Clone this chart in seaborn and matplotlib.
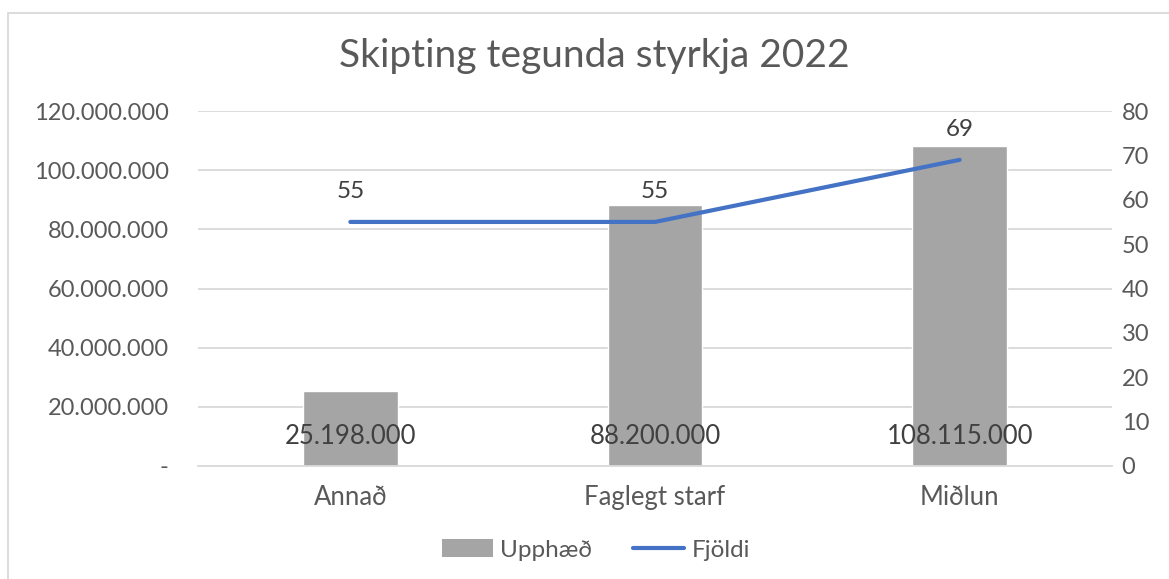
import numpy as np
import pandas as pd
import matplotlib.pyplot as plt
import seaborn as sns
from matplotlib.patches import Rectangle, Patch
from matplotlib.lines import Line2D

categories = ["Annað", "Faglegt starf", "Miðlun"]
upphaed = [25198000, 88200000, 108115000]
fjoldi = [55, 55, 69]

df = pd.DataFrame({"flokkur": categories, "upphaed": upphaed, "fjoldi": fjoldi})

sns.set_theme(style="white")
plt.rcParams['font.family'] = ['Lato', 'DejaVu Sans']
txt = "#595959"
grid = "#D9D9D9"

def fmt(v):
    if v == 0:
        return "-"
    return f"{int(v):,}".replace(",", ".")

fig = plt.figure(figsize=(11.69, 5.79), dpi=100)
ax = fig.add_axes([198 / 1169, 1 - 466 / 579, 914 / 1169, 355 / 579])
ax2 = ax.twinx()

sns.barplot(data=df, x="flokkur", y="upphaed", color="#A5A5A5", saturation=1,
            width=0.31, ax=ax, zorder=2)
sns.lineplot(data=df, x="flokkur", y="fjoldi", color="#4472C4", linewidth=3,
             ax=ax2, solid_capstyle="round", sort=False)

ax.set_ylim(0, 120000000)
ax.set_yticks(np.arange(0, 120000001, 20000000))
ax.set_yticklabels([fmt(v) for v in ax.get_yticks()])
ax2.set_ylim(0, 80)
ax2.set_yticks(range(0, 81, 10))
ax.set_xlim(-0.5, 2.5)

ax.grid(axis="y", color=grid, linewidth=1.3, zorder=0)
ax.set_axisbelow(True)
for a in (ax, ax2):
    for s in a.spines.values():
        s.set_visible(False)
    a.set_xlabel("")
    a.set_ylabel("")
ax.spines["bottom"].set_visible(True)
ax.spines["bottom"].set_color(grid)
ax.spines["bottom"].set_linewidth(1.3)

ax.tick_params(axis="y", colors=txt, labelsize=17, length=0, pad=21)
ax.tick_params(axis="x", colors=txt, labelsize=18.5, length=0, pad=14)
ax2.tick_params(axis="y", colors=txt, labelsize=17, length=0, pad=7)

for i, v in enumerate(upphaed):
    ax.text(i, 10000000, fmt(v), ha="center", va="center", color="#404040", fontsize=18.5, zorder=5)
for i, v in enumerate(fjoldi):
    ax2.text(i, v + 4.5, str(v), ha="center", va="bottom", color="#404040", fontsize=17.5)

fig.text(594 / 1169, 1 - 56 / 579, "Skipting tegunda styrkja 2022", ha="center", va="center",
         fontsize=28, color=txt)

handles = [Patch(facecolor="#A5A5A5", edgecolor="none"),
           Line2D([0], [0], color="#4472C4", linewidth=3, solid_capstyle="round")]
fig.legend(handles, ["Upphæð", "Fjöldi"], loc="center", bbox_to_anchor=(596 / 1169, 1 - 550 / 579),
           ncol=2, frameon=False, fontsize=17.5, labelcolor=txt, handlelength=2.1,
           handletextpad=0.3, columnspacing=1.7)

fig.patches.append(Rectangle((8 / 1169, -0.1), 1.2, 1 - 13 / 579 + 0.1, transform=fig.transFigure,
                             fill=False, edgecolor="#D9D9D9", linewidth=1.3))

fig.savefig("out.png", dpi=100)
